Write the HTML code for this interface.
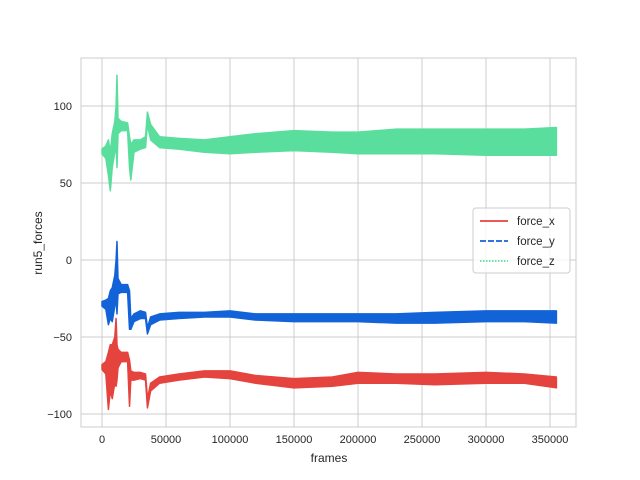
<!DOCTYPE html>
<html><head><meta charset="utf-8"><style>
body{margin:0;background:#fff;}
svg{display:block;font-family:"Liberation Sans","DejaVu Sans",sans-serif;}
</style></head><body>
<svg id="chart" width="640" height="480" viewBox="0 0 640 480"></svg>
<script>
const frames=[0,3000,5000,6500,8000,10000,11000,11700,12500,15000,20000,21500,22500,25000,30000,34000,35500,38000,45000,60000,80000,100000,120000,150000,180000,200000,230000,260000,300000,330000,355000];
const zLow=[69,66,55,45,60,70,75,60,82,84,84,60,52,70,72,73,88,78,73,72,70,69,70,71,70,69,69,69,68,68,68];
const zHigh=[72,74,78,70,82,90,100,120,92,90,89,80,75,78,78,80,96,88,80,79,78,80,82,84,83,83,85,85,85,85,86];
const yLow=[-30,-32,-42,-38,-40,-30,-25,-35,-22,-21,-21,-45,-45,-40,-38,-38,-48,-42,-39,-38,-37,-37,-39,-40,-40,-40,-41,-41,-40,-40,-41];
const yHigh=[-27,-26,-25,-20,-18,-10,0,12,-12,-16,-16,-20,-38,-35,-33,-34,-44,-37,-35,-34,-34,-33,-35,-35,-35,-35,-35,-34,-33,-33,-33];
const xLow=[-71,-74,-97,-85,-90,-80,-82,-78,-70,-66,-66,-95,-78,-78,-77,-78,-96,-85,-80,-78,-76,-77,-80,-83,-82,-80,-80,-81,-80,-80,-83];
const xHigh=[-68,-66,-60,-55,-55,-50,-38,-55,-58,-60,-60,-65,-72,-73,-73,-74,-90,-80,-76,-74,-72,-72,-75,-77,-76,-73,-74,-74,-73,-74,-76];
const xTicks=[0,50000,100000,150000,200000,250000,300000,350000];
const yTicks=[-100,-50,0,50,100];
const seriesNames=["force_x","force_y","force_z"];

const NS="http://www.w3.org/2000/svg";
const svg=document.getElementById('chart');
const L=81,R=576,T=58,B=427;
const sx=f=>102+f*64/50000;
const sy=v=>260-v*1.54;
function mk(tag,attrs,parent){const e=document.createElementNS(NS,tag);for(const k in attrs)e.setAttribute(k,attrs[k]);(parent||svg).appendChild(e);return e;}

const grid=mk('g',{});


xTicks.forEach(t=>{
  const l=mk('line',{x1:sx(t),x2:sx(t),y1:T,y2:B,stroke:'#cccccc','stroke-width':1},grid);
  
  
  const tx=mk('text',{x:sx(t),y:B+16,'text-anchor':'middle','font-size':11,fill:'#262626'});
  
  
  tx.textContent=t;
});
yTicks.forEach(t=>{
  const l=mk('line',{x1:L,x2:R,y1:sy(t),y2:sy(t),stroke:'#cccccc','stroke-width':1},grid);
  
  
  const tx=mk('text',{x:L-9,y:sy(t)+4,'text-anchor':'end','font-size':11,fill:'#262626'});
  
  
  tx.textContent=t<0?'\u2212'+(-t):t;
});
const frame=mk('rect',{x:L,y:T,width:R-L,height:B-T,fill:'none',stroke:'#cccccc','stroke-width':1});



function band(lo,hi,color,name){
  let pts=frames.map((f,i)=>sx(f)+','+sy(hi[i]));
  for(let i=frames.length-1;i>=0;i--)pts.push(sx(frames[i])+','+sy(lo[i]));
  const p=mk('polygon',{points:pts.join(' '),fill:color,stroke:color,'stroke-width':1.5,'stroke-linejoin':'round'});
  
  
}
band(zLow,zHigh,'#5ade9e','series-force-z');
band(yLow,yHigh,'#1262d8','series-force-y');
band(xLow,xHigh,'#e5433d','series-force-x');

const lab=mk('text',{x:329,y:462,'text-anchor':'middle','font-size':12,fill:'#262626'});


lab.textContent='frames';
const ylab=mk('text',{x:42,y:243,'text-anchor':'middle','font-size':12,fill:'#262626',transform:'rotate(-90 42 243)'});


ylab.textContent='run5_forces';

const lg=mk('g',{});


mk('rect',{x:473,y:208,width:97,height:65,rx:3,fill:'#fff','fill-opacity':0.8,stroke:'#cccccc'},lg);
const cols=['#e5433d','#1262d8','#5ade9e'],dash=['none','6,2','1.5,1.5'];
seriesNames.forEach((n,i)=>{
  const y=221+i*20;
  const e=mk('g',{},lg);
  
  
  mk('line',{x1:480,x2:508,y1:y,y2:y,stroke:cols[i],'stroke-width':1.8,'stroke-dasharray':dash[i]},e);
  const t=mk('text',{x:517,y:y+4,'font-size':11.5,fill:'#262626'},e);
  t.textContent=n;
});
</script>
</body></html>
